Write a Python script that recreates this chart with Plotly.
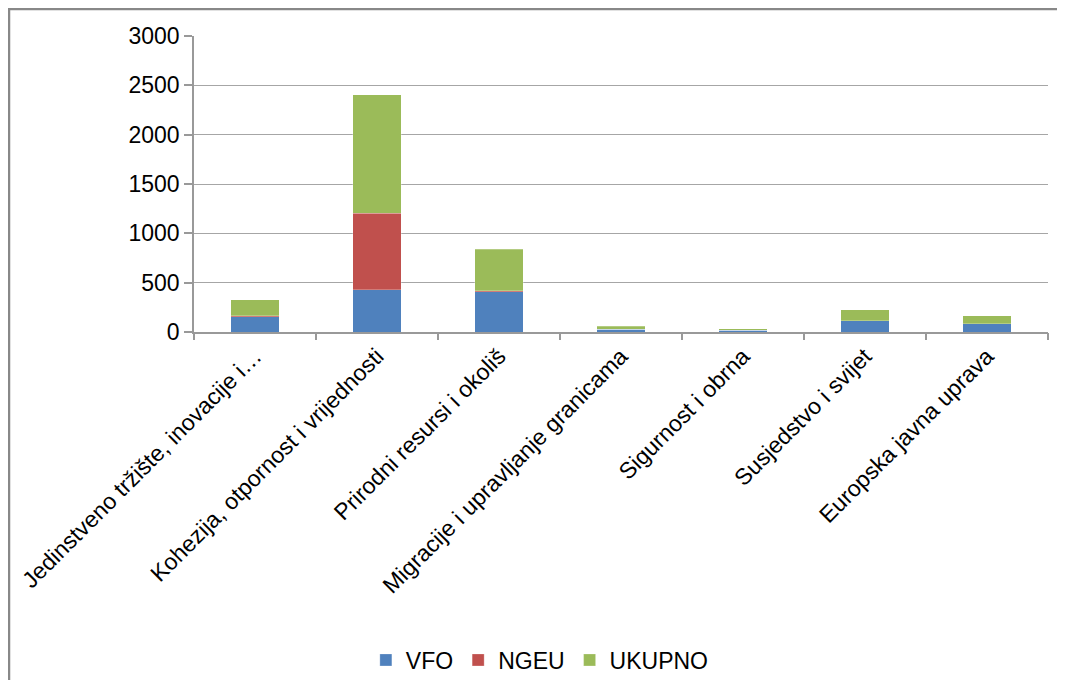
import plotly.graph_objects as go

categories = [
    "Jedinstveno tržište, inovacije i…",
    "Kohezija, otpornost i vrijednosti",
    "Prirodni resursi i okoliš",
    "Migracije i upravljanje granicama",
    "Sigurnost i obrna",
    "Susjedstvo i svijet",
    "Europska javna uprava",
]
vfo = [155, 430, 408, 28, 16, 113, 83]
ngeu = [8, 773, 12, 2, 1, 0, 0]
ukupno = [163, 1203, 420, 30, 17, 113, 83]

colors = {"VFO": "#4F81BD", "NGEU": "#C0504D", "UKUPNO": "#9BBB59"}
xpos = list(range(len(categories)))

fig = go.Figure()
for name, vals in [("VFO", vfo), ("NGEU", ngeu), ("UKUPNO", ukupno)]:
    fig.add_trace(go.Bar(
        x=xpos, y=vals, name=name, width=0.4,
        marker=dict(color=colors[name], line=dict(color="rgba(255,255,255,0.5)", width=0.5)),
    ))

# invisible trace for boundary tick marks
fig.add_trace(go.Scatter(x=[-0.5, 6.5], y=[0, 0], xaxis="x2", mode="lines",
                         line=dict(width=0), showlegend=False, hoverinfo="skip"))

# page body has an 8px margin; figure placed at (8, 8)
W, H = 1049, 672
L, T = 186, 28
R = W - 1040
B = H - 324
pw, ph = W - L - R, H - T - B

fig.update_layout(
    width=W, height=H,
    margin=dict(l=L, r=R, t=T, b=B, autoexpand=False),
    barmode="stack",
    paper_bgcolor="white", plot_bgcolor="white",
    font=dict(family="Liberation Sans, Arial, sans-serif", size=23, color="#000000"),
    xaxis=dict(range=[-0.5, 6.5], tickvals=xpos, ticktext=categories, tickangle=-45,
               ticks="", showgrid=False, showline=True, linecolor="#999999", linewidth=1.5,
               zeroline=False, tickfont=dict(size=23), automargin=False,
               ticklabeloverflow="allow"),
    xaxis2=dict(range=[-0.5, 6.5], overlaying="x", anchor="y",
                tickvals=[i - 0.5 for i in range(len(categories) + 1)],
                ticks="outside", ticklen=7, tickcolor="#999999", tickwidth=1.5,
                showticklabels=False, showgrid=False, showline=False, zeroline=False,
                side="bottom", automargin=False),
    yaxis=dict(range=[0, 3000], dtick=500, showgrid=True, gridcolor="#a6a6a6", gridwidth=1.2,
               showline=True, linecolor="#999999", linewidth=1.5, ticks="outside",
               ticklen=8, tickcolor="#999999", tickwidth=1.5, zeroline=False,
               tickfont=dict(size=23), automargin=False),
    legend=dict(orientation="h", x=0.405, xanchor="center", y=(324 - 652) / ph, yanchor="middle",
                font=dict(size=23), traceorder="normal", itemwidth=30),
    bargap=0.6,
    showlegend=True,
)

# outer chart border (frame)
fig.add_shape(type="rect", xref="paper", yref="paper",
              x0=(1 - L) / pw, x1=(1100 - L) / pw,
              y0=(324 - 720) / ph, y1=(324 - 1) / ph,
              line=dict(color="#888888", width=2.5), fillcolor="rgba(0,0,0,0)", layer="below")

fig.write_html("out.html")
